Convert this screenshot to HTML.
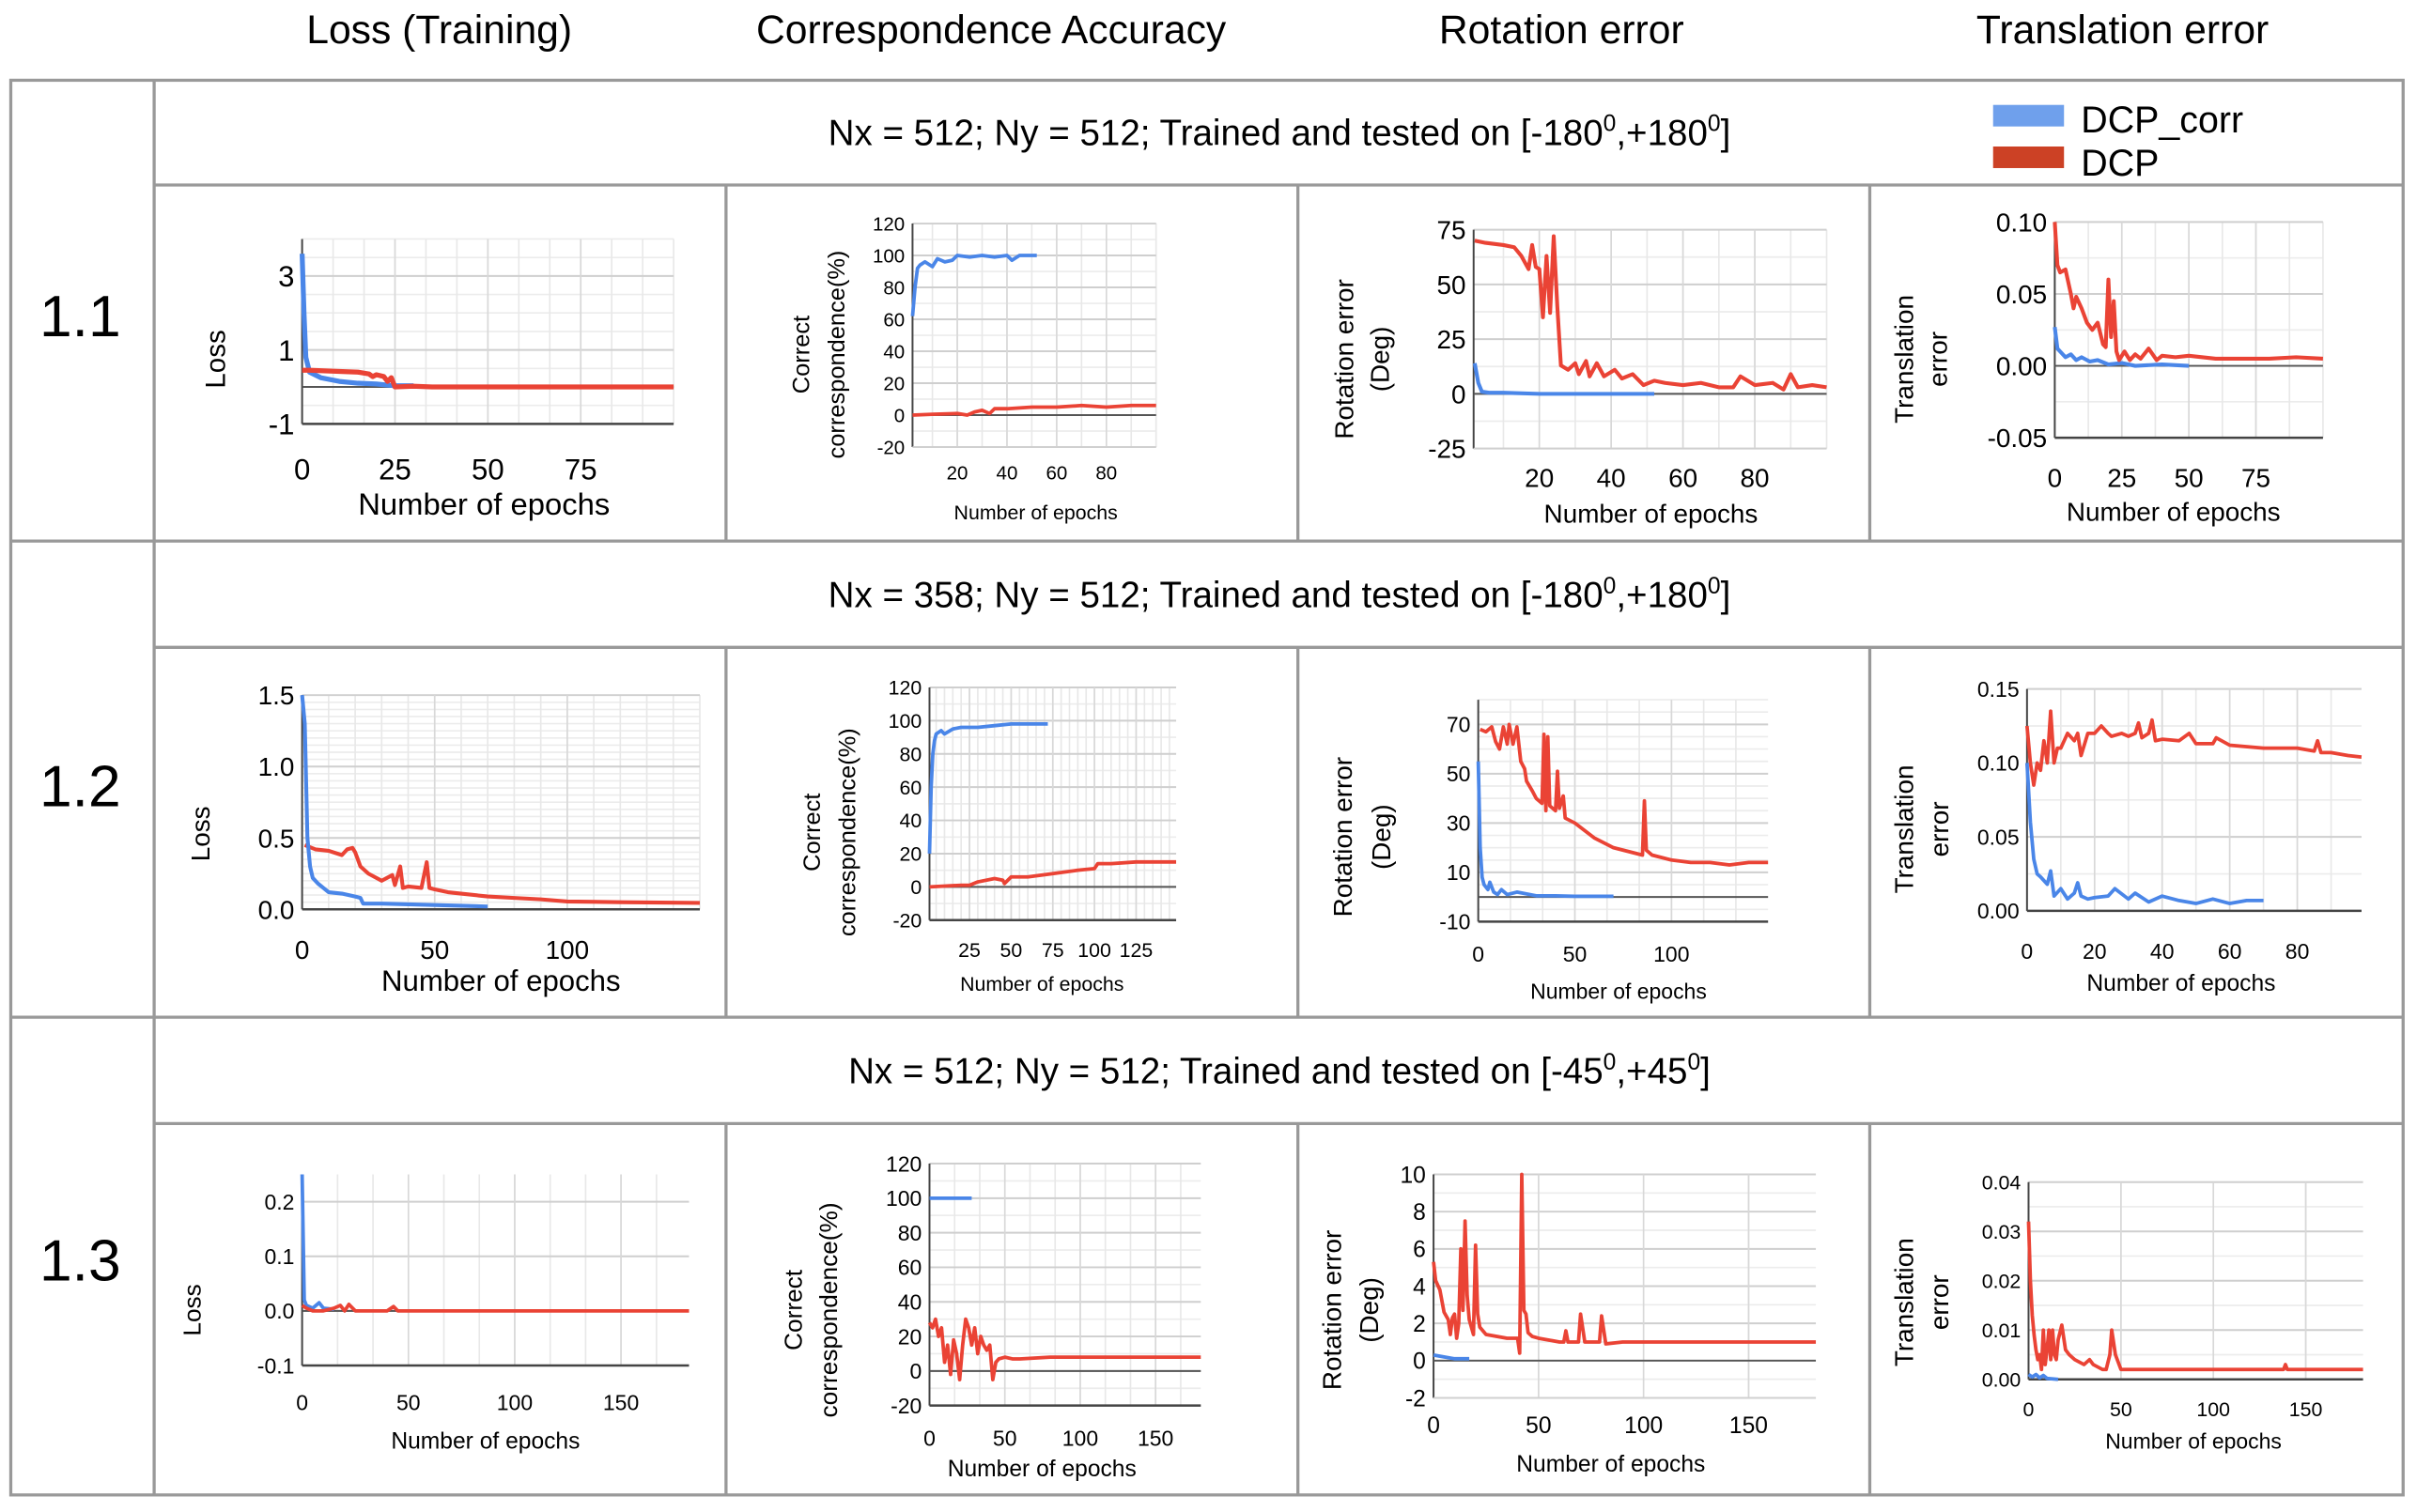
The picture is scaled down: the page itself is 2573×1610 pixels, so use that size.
<!DOCTYPE html>
<html><head><meta charset="utf-8"><style>
html,body{margin:0;padding:0;background:#fff;}
svg{display:block;font-family:"Liberation Sans",sans-serif;}
</style></head><body>
<svg id="fig" width="2573" height="1610" viewBox="0 0 1568 981" xmlns="http://www.w3.org/2000/svg">
<g font-size="26" text-anchor="middle" fill="#000">
<text x="285" y="28">Loss  (Training)</text>
<text x="643" y="28">Correspondence Accuracy</text>
<text x="1013" y="28">Rotation error</text>
<text x="1377" y="28">Translation error</text>
</g>
<g stroke="#999" stroke-width="2" fill="none">
<rect x="7" y="52" width="1552" height="918"/>
<line x1="100" y1="52" x2="100" y2="970"/>
<line x1="7" y1="351" x2="1559" y2="351"/>
<line x1="7" y1="660" x2="1559" y2="660"/>
<line x1="100" y1="120" x2="1559" y2="120"/>
<line x1="100" y1="420" x2="1559" y2="420"/>
<line x1="100" y1="729" x2="1559" y2="729"/>
<line x1="471" y1="120" x2="471" y2="351"/><line x1="842" y1="120" x2="842" y2="351"/><line x1="1213" y1="120" x2="1213" y2="351"/>
<line x1="471" y1="420" x2="471" y2="660"/><line x1="842" y1="420" x2="842" y2="660"/><line x1="1213" y1="420" x2="1213" y2="660"/>
<line x1="471" y1="729" x2="471" y2="970"/><line x1="842" y1="729" x2="842" y2="970"/><line x1="1213" y1="729" x2="1213" y2="970"/>
</g>
<g font-size="38" text-anchor="middle">
<text x="52" y="218">1.1</text>
<text x="52" y="523">1.2</text>
<text x="52" y="831">1.3</text>
</g>
<g font-size="23.5" text-anchor="middle">
<text x="830" y="94">Nx = 512; Ny = 512; Trained and tested on [-180<tspan font-size="15" dy="-9">0</tspan><tspan dy="9">,+180</tspan><tspan font-size="15" dy="-9">0</tspan><tspan dy="9">]</tspan></text>
<text x="830" y="394">Nx = 358; Ny = 512; Trained and tested on [-180<tspan font-size="15" dy="-9">0</tspan><tspan dy="9">,+180</tspan><tspan font-size="15" dy="-9">0</tspan><tspan dy="9">]</tspan></text>
<text x="830" y="703">Nx = 512; Ny = 512; Trained and tested on [-45<tspan font-size="15" dy="-9">0</tspan><tspan dy="9">,+45</tspan><tspan font-size="15" dy="-9">0</tspan><tspan dy="9">]</tspan></text>
</g>
<g font-size="24">
<rect x="1293" y="68" width="46" height="14" fill="#6fa0ec"/>
<text x="1350" y="86">DCP_corr</text>
<rect x="1293" y="95" width="46" height="14" fill="#cc4125"/>
<text x="1350" y="114">DCP</text>
</g>
<g id="charts"></g>
</svg>
<script>
// ---- data: row 1.1 ----
const l11_bx=[0,0.5,1,2,5,10,15,20,25,30];
const l11_by=[3.6,2,0.8,0.4,0.25,0.15,0.1,0.08,0.03,0.03];
const l11_rx=[0,2,10,15,18,19,20,22,23,24,25,30,35,50,75,100];
const l11_ry=[0.45,0.45,0.42,0.4,0.35,0.28,0.33,0.28,0.15,0.25,0,0.02,0,0,0,0];
const c11_bx=[2,3,4,5,7,10,12,15,18,20,25,30,35,40,42,45,52];
const c11_by=[62,80,92,94,96,93,98,96,97,100,99,100,99,100,97,100,100];
const c11_rx=[2,10,20,24,27,30,33,35,40,50,60,70,80,90,100];
const c11_ry=[0,0.5,1,0,2,3,1,4,4,5,5,6,5,6,6];
const r11_rx=[2,5,10,13,15,17,18,19,20,21,22,23,24,25,26,28,30,31,33,34,36,38,41,43,46,49,52,55,60,65,70,74,76,80,85,88,90,92,96,100];
const r11_ry=[70,69,68,67,63,57,68,58,57,35,63,37,72,40,13,11,14,9,15,8,14,8,11,7,9,4,6,5,4,5,3,3,8,4,5,2,9,3,4,3];
const r11_bx=[2,3,4,6,10,20,52];
const r11_by=[14,5,1,0.5,0.5,0,0];
const t11_rx=[0,1,2,4,6,7,8,10,12,14,16,18,19,20,21,22,23,24,26,28,30,32,35,38,40,45,50,60,70,80,90,100];
const t11_ry=[0.1,0.07,0.065,0.067,0.05,0.04,0.048,0.04,0.03,0.025,0.03,0.015,0.013,0.06,0.02,0.045,0.01,0.004,0.01,0.004,0.008,0.005,0.012,0.004,0.007,0.006,0.007,0.005,0.005,0.005,0.006,0.005];
const t11_bx=[0,1,2,4,6,8,10,13,16,20,25,30,40,50];
const t11_by=[0.027,0.012,0.01,0.006,0.008,0.004,0.006,0.003,0.004,0.001,0.002,0,0.001,0];
// ---- data: row 1.2 ----
const l12_rx=[1,5,10,15,17,19,20,22,25,30,34,35,37,38,40,45,47,48,50,55,60,70,80,90,100,120,150];
const l12_ry=[0.45,0.42,0.41,0.38,0.42,0.43,0.4,0.3,0.25,0.2,0.24,0.17,0.3,0.15,0.16,0.15,0.33,0.15,0.14,0.12,0.11,0.09,0.08,0.07,0.055,0.05,0.045];
const l12_bx=[0,1,2,3,4,6,8,10,15,20,22,23,30,40,50,60,70];
const l12_by=[1.5,1.3,0.5,0.3,0.22,0.18,0.15,0.12,0.11,0.09,0.08,0.04,0.04,0.035,0.03,0.025,0.02];
const c12_bx=[1,2,3,4,5,8,10,15,20,30,40,50,60,72];
const c12_by=[20,60,80,88,92,94,92,95,96,96,97,98,98,98];
const c12_rx=[1,10,20,25,30,40,45,46,50,60,75,90,100,102,110,125,149];
const c12_ry=[0,0.5,1,1,3,5,4,2,6,6,8,10,11,14,14,15,15];
const r12_rx=[1,4,7,9,11,13,15,16,17,18,20,22,24,25,28,30,33,34,35,36,37,40,41,42,44,45,50,55,60,65,70,75,80,85,86,87,90,100,110,120,130,140,150];
const r12_ry=[68,67,69,63,60,69,62,70,66,62,69,55,52,47,43,40,38,66,35,65,37,35,51,36,41,32,30,27,24,22,20,19,18,17,39,19,17,15,14,14,13,14,14];
const r12_bx=[0,1,2,3,5,6,8,10,12,15,20,30,40,50,70];
const r12_by=[55,20,8,5,3,6,2,1,3,1,2,0.5,0.5,0.3,0.3];
const t12_rx=[0,1,2,3,4,5,6,7,8,9,10,12,14,15,16,18,20,22,24,25,28,30,32,33,34,36,37,38,40,45,48,50,55,56,60,70,80,85,86,87,90,95,99];
const t12_ry=[0.125,0.1,0.085,0.1,0.095,0.115,0.1,0.135,0.1,0.11,0.11,0.12,0.115,0.12,0.105,0.12,0.12,0.125,0.12,0.118,0.12,0.118,0.12,0.127,0.117,0.12,0.129,0.115,0.116,0.115,0.12,0.113,0.113,0.117,0.112,0.11,0.11,0.108,0.115,0.107,0.107,0.105,0.104];
const t12_bx=[0,1,2,3,4,6,7,8,10,12,14,15,16,18,20,24,26,30,32,36,40,45,50,55,60,65,70];
const t12_by=[0.1,0.06,0.035,0.025,0.023,0.018,0.027,0.01,0.015,0.008,0.012,0.019,0.01,0.008,0.009,0.01,0.015,0.008,0.012,0.006,0.01,0.007,0.005,0.008,0.005,0.007,0.007];
// ---- data: row 1.3 ----
const l13_bx=[0,1,2,5,8,10,15];
const l13_by=[0.25,0.02,0.01,0.005,0.015,0.005,0.003];
const l13_rx=[0,2,5,10,15,18,20,22,25,40,43,45,50,100,182];
const l13_ry=[0.01,0.005,0,0,0.005,0.01,0,0.012,0,0,0.008,0,0,0,0];
const c13_bx=[0,28];
const c13_by=[100,100];
const c13_rx=[0,2,4,6,8,10,12,14,16,18,20,22,24,26,28,30,32,34,36,38,40,42,44,46,50,55,60,80,100,120,150,180];
const c13_ry=[28,25,30,20,25,5,15,-2,18,10,-5,15,30,25,15,25,10,20,15,12,15,-5,5,7,8,7,7,8,8,8,8,8];
const r13_rx=[0,1,3,5,7,8,9,10,11,12,13,14,15,16,17,18,19,20,21,22,25,30,35,40,41,42,43,44,45,47,50,55,60,62,63,64,69,70,72,79,80,82,90,100,105,120,150,182];
const r13_ry=[5.3,4.3,3.8,2.6,2.2,1.4,2.3,2.5,1.2,2,6,2.7,7.5,3.5,2.2,1.8,1.4,6.2,2.5,1.8,1.4,1.3,1.2,1.2,0.4,10,2.7,2.5,1.5,1.3,1.2,1.1,1.0,1.0,1.6,1.0,1.0,2.5,1.0,1.0,2.4,0.9,1.0,1.0,1.0,1.0,1.0,1.0];
const r13_bx=[0,5,10,17];
const r13_by=[0.3,0.2,0.1,0.1];
const t13_rx=[0,1,2,3,4,5,6,7,8,9,10,11,12,13,14,15,16,18,20,22,25,30,33,35,40,42,44,45,47,50,60,100,138,139,140,150,181];
const t13_ry=[0.032,0.02,0.013,0.009,0.006,0.004,0.005,0.002,0.01,0.003,0.006,0.01,0.004,0.01,0.005,0.004,0.008,0.011,0.006,0.005,0.004,0.003,0.004,0.003,0.002,0.002,0.005,0.01,0.005,0.002,0.002,0.002,0.002,0.003,0.002,0.002,0.002];
const t13_bx=[0,2,4,6,8,10,16];
const t13_by=[0.001,0.0005,0.001,0.0003,0.0008,0.0002,0];
// ---- tick labels ----
const l11_yt=[-1,1,3], l11_xt=[0,25,50,75];
const c11_yt=[-20,0,20,40,60,80,100,120], c11_xt=[20,40,60,80];
const r11_yt=[-25,0,25,50,75], r11_xt=[20,40,60,80];
const t11_yt=[-0.05,0,0.05,0.1], t11_xt=[0,25,50,75];
const l12_yt=[0,0.5,1.0,1.5], l12_xt=[0,50,100];
const c12_yt=[-20,0,20,40,60,80,100,120], c12_xt=[25,50,75,100,125];
const r12_yt=[-10,10,30,50,70], r12_xt=[0,50,100];
const t12_yt=[0,0.05,0.1,0.15], t12_xt=[0,20,40,60,80];
const l13_yt=[-0.1,0,0.1,0.2], l13_xt=[0,50,100,150];
const c13_yt=[-20,0,20,40,60,80,100,120], c13_xt=[0,50,100,150];
const r13_yt=[-2,0,2,4,6,8,10], r13_xt=[0,50,100,150];
const t13_yt=[0,0.01,0.02,0.03,0.04], t13_xt=[0,50,100,150];

const NS='http://www.w3.org/2000/svg';
const root=document.getElementById('charts');
const BLUE='#4a86e8', RED='#ea4335';
function mk(tag,attrs,parent){const e=document.createElementNS(NS,tag);for(const k in attrs)e.setAttribute(k,attrs[k]);parent.appendChild(e);return e;}

function chart(name,c,yt,xt,series){
  const g=mk('g',{},root);
  
  
  const X=v=>c.L+(v-c.x0)/(c.x1-c.x0)*(c.R-c.L);
  const Y=v=>c.B-(v-c.y0)/(c.y1-c.y0)*(c.B-c.T);
  for(let v=c.y0;v<=c.y1+1e-9;v+=c.yg){const l=mk('line',{x1:c.L,x2:c.R,y1:Y(v),y2:Y(v),stroke:'#ececec','stroke-width':1},g);}
  for(let v=c.xs;v<=c.x1+1e-9;v+=c.xg){const l=mk('line',{x1:X(v),x2:X(v),y1:c.T,y2:c.B,stroke:'#e8e8e8','stroke-width':1},g);}
  yt.forEach(v=>{
    const l=mk('line',{x1:c.L,x2:c.R,y1:Y(v),y2:Y(v),stroke:'#cfcfcf','stroke-width':1.2},g);
    
    const t=mk('text',{x:c.L-5,y:Y(v)+c.fs*0.36,'font-size':c.fs,'text-anchor':'end'},g);
    t.textContent=(c.dec!=null?v.toFixed(c.dec):String(v));
    
  });
  xt.forEach(v=>{
    const l=mk('line',{x1:X(v),x2:X(v),y1:c.T,y2:c.B,stroke:'#d8d8d8','stroke-width':1},g);
    
    const t=mk('text',{x:X(v),y:c.xty,'font-size':c.fs,'text-anchor':'middle'},g);
    t.textContent=String(v);
    
  });
  const ya=mk('line',{x1:c.L,x2:c.L,y1:c.T,y2:c.B,stroke:'#444','stroke-width':1.2},g);
  
  if(c.y0<0){const z=mk('line',{x1:c.L,x2:c.R,y1:Y(0),y2:Y(0),stroke:'#555','stroke-width':1.2},g);}
  const xa=mk('line',{x1:c.L,x2:c.R,y1:c.B,y2:c.B,stroke:c.xaxDark?'#444':'#d0d0d0','stroke-width':c.xaxDark?1.5:1},g);
  
  series.forEach(s=>{
    const d=s.x.map((v,i)=>(i?'L':'M')+X(v).toFixed(2)+' '+Y(s.y[i]).toFixed(2)).join(' ');
    const p=mk('path',{d:d,fill:'none',stroke:s.col,'stroke-width':c.lw,'stroke-linejoin':'round'},g);
    
  });
  const xl=mk('text',{x:c.xlx,y:c.xly,'font-size':c.xls,'text-anchor':'middle'},g);
  xl.textContent='Number of epochs';
  
  c.yl.forEach((s,i)=>{
    const t=mk('text',{x:0,y:0,'font-size':c.yls,'text-anchor':'middle',transform:'translate('+c.ylx[i]+','+c.yly+') rotate(-90)'},g);
    t.textContent=s;
    
  });
}
const bs=(x,y)=>({x:x,y:y,col:BLUE,name:'series-dcp-corr'});
const rs=(x,y)=>({x:x,y:y,col:RED,name:'series-dcp'});

chart('loss-chart-1-1',{L:196,R:437,T:155,B:275,x0:0,x1:100,y0:-1,y1:4,xs:0,xg:25/3,yg:0.5,fs:19,xty:311,xlx:314,xly:334,xls:20,yl:['Loss'],ylx:[146],yly:233,yls:18,lw:3.2,xaxDark:true},l11_yt,l11_xt,[bs(l11_bx,l11_by),rs(l11_rx,l11_ry)]);
chart('correspondence-chart-1-1',{L:592,R:750,T:145,B:290,x0:2,x1:100,y0:-20,y1:120,xs:10,xg:10,yg:10,fs:12.5,xty:311,xlx:672,xly:337,xls:13,yl:['Correct','correspondence(%)'],ylx:[525,548],yly:230,yls:15.5,lw:2.3},c11_yt,c11_xt,[bs(c11_bx,c11_by),rs(c11_rx,c11_ry)]);
chart('rotation-chart-1-1',{L:956,R:1185,T:149,B:291,x0:1.7,x1:100,y0:-25,y1:75,xs:10,xg:10,yg:12.5,fs:17,xty:316,xlx:1071,xly:339,xls:17,yl:['Rotation error','(Deg)'],ylx:[878,901],yly:233,yls:17,lw:2.5},r11_yt,r11_xt,[bs(r11_bx,r11_by),rs(r11_rx,r11_ry)]);
chart('translation-chart-1-1',{L:1333,R:1507,T:144,B:284,x0:0,x1:100,y0:-0.05,y1:0.1,xs:0,xg:12.5,yg:0.025,fs:17,dec:2,xty:316,xlx:1410,xly:338,xls:17,yl:['Translation','error'],ylx:[1241,1263],yly:233,yls:17,lw:2.5,xaxDark:true},t11_yt,t11_xt,[bs(t11_bx,t11_by),rs(t11_rx,t11_ry)]);
chart('loss-chart-1-2',{L:196,R:454,T:451,B:590,x0:0,x1:150,y0:0,y1:1.5,xs:0,xg:10,yg:0.05,fs:17,dec:1,xty:622,xlx:325,xly:643,xls:19,yl:['Loss'],ylx:[136],yly:541,yls:17,lw:2.5,xaxDark:true},l12_yt,l12_xt,[rs(l12_rx,l12_ry),bs(l12_bx,l12_by)]);
chart('correspondence-chart-1-2',{L:603,R:763,T:446,B:597,x0:1,x1:149,y0:-20,y1:120,xs:5,xg:5,yg:10,fs:13,xty:621,xlx:676,xly:643,xls:13,yl:['Correct','correspondence(%)'],ylx:[532,555],yly:540,yls:15.5,lw:2.3,xaxDark:true},c12_yt,c12_xt,[bs(c12_bx,c12_by),rs(c12_rx,c12_ry)]);
chart('rotation-chart-1-2',{L:959,R:1147,T:454,B:598,x0:0,x1:150,y0:-10,y1:80,xs:0,xg:16.67,yg:5,fs:14,xty:624,xlx:1050,xly:648,xls:14,yl:['Rotation error','(Deg)'],ylx:[877,902],yly:543,yls:17,lw:2.3,xaxDark:true},r12_yt,r12_xt,[rs(r12_rx,r12_ry),bs(r12_bx,r12_by)]);
chart('translation-chart-1-2',{L:1315,R:1532,T:447,B:591,x0:0,x1:99,y0:0,y1:0.15,xs:0,xg:10,yg:0.025,fs:14,dec:2,xty:622,xlx:1415,xly:643,xls:15,yl:['Translation','error'],ylx:[1241,1264],yly:538,yls:17,lw:2.3,xaxDark:true},t12_yt,t12_xt,[rs(t12_rx,t12_ry),bs(t12_bx,t12_by)]);
chart('loss-chart-1-3',{L:196,R:447,T:762,B:886,x0:0,x1:182,y0:-0.1,y1:0.25,xs:0,xg:16.67,yg:0.1,fs:14,dec:1,xty:915,xlx:315,xly:940,xls:15,yl:['Loss'],ylx:[130],yly:850,yls:16,lw:2.3,xaxDark:true},l13_yt,l13_xt,[bs(l13_bx,l13_by),rs(l13_rx,l13_ry)]);
chart('correspondence-chart-1-3',{L:603,R:779,T:755,B:912,x0:0,x1:180,y0:-20,y1:120,xs:0,xg:16.67,yg:10,fs:14,xty:938,xlx:676,xly:958,xls:15,yl:['Correct','correspondence(%)'],ylx:[520,543],yly:850,yls:16,lw:2.3,xaxDark:true},c13_yt,c13_xt,[bs(c13_bx,c13_by),rs(c13_rx,c13_ry)]);
chart('rotation-chart-1-3',{L:930,R:1178,T:762,B:907,x0:0,x1:182,y0:-2,y1:10,xs:0,xg:50,yg:1,fs:15,xty:930,xlx:1045,xly:955,xls:15,yl:['Rotation error','(Deg)'],ylx:[870,894],yly:850,yls:17,lw:2.3},r13_yt,r13_xt,[bs(r13_bx,r13_by),rs(r13_rx,r13_ry)]);
chart('translation-chart-1-3',{L:1316,R:1533,T:767,B:895,x0:0,x1:181,y0:0,y1:0.04,xs:0,xg:50,yg:0.005,fs:13,dec:2,xty:919,xlx:1423,xly:940,xls:14,yl:['Translation','error'],ylx:[1241,1264],yly:845,yls:17,lw:2.3,xaxDark:true},t13_yt,t13_xt,[bs(t13_bx,t13_by),rs(t13_rx,t13_ry)]);
</script>
</body></html>
